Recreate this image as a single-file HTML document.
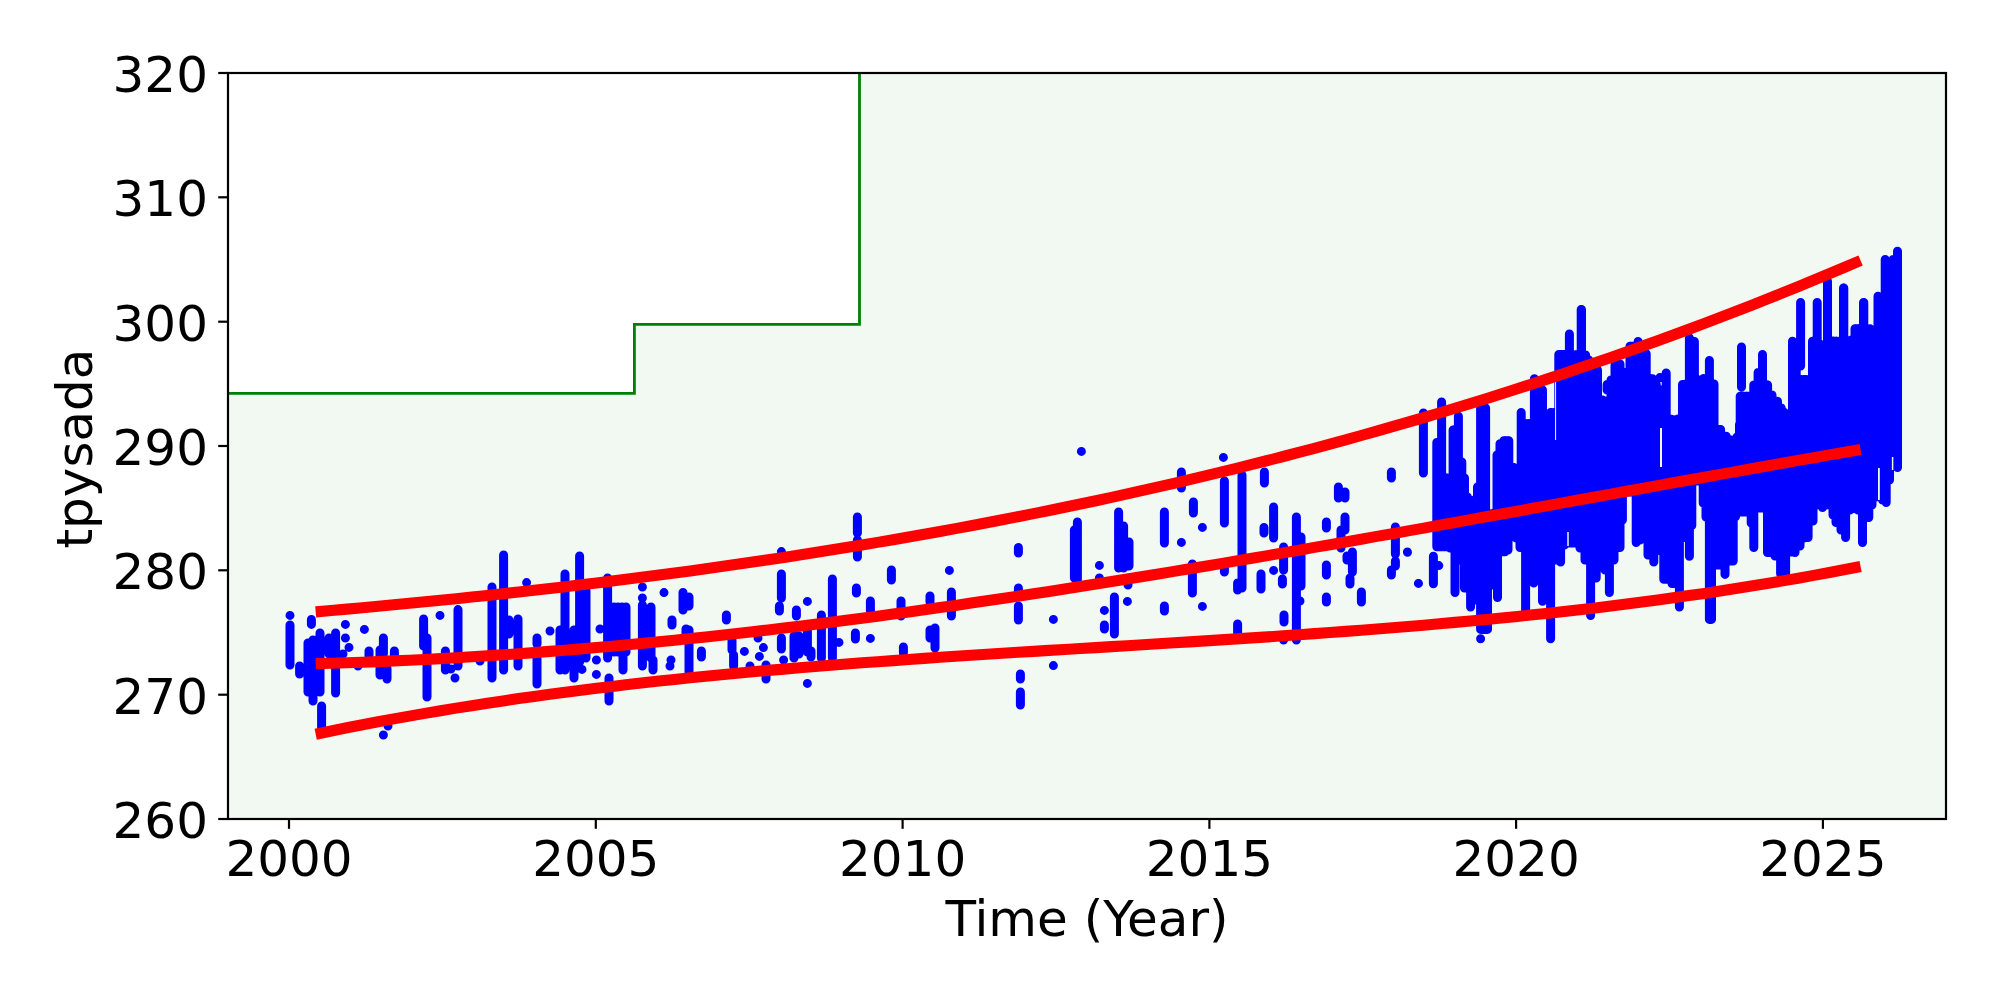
<!DOCTYPE html>
<html lang="en"><head><meta charset="utf-8"><title>tpysada vs Time (Year)</title>
<style>html,body{margin:0;padding:0;background:#fff;}body{width:2000px;height:1000px;overflow:hidden;}svg{display:block;}text{font-family:"DejaVu Sans","Liberation Sans",sans-serif;font-size:50px;fill:#000;}</style></head><body>
<svg width="2000" height="1000" viewBox="0 0 2000 1000">
<rect x="0" y="0" width="2000" height="1000" fill="#ffffff"/>
<path d="M228.0 393.3H634.4V324.4H859.5V73.0H1946.0V819.0H228.0Z" fill="#f2f9f2"/>
<path d="M228.0 393.3H634.4V324.4H859.5V73.0" fill="none" stroke="#008000" stroke-width="2.8" stroke-linejoin="miter"/>
<clipPath id="ax"><rect x="228" y="73" width="1718" height="746"/></clipPath>
<g clip-path="url(#ax)">
<g stroke="#0000ff" stroke-width="9" stroke-linecap="round" fill="none">
<path d="M290.0 625.0V665.0M311.4 619.4V624.4M299.6 666.0V674.0M308.0 643.0V692.0M313.0 640.0V701.0M320.0 633.0V692.0M321.6 706.0V733.0M329.0 638.0V654.0M335.6 633.0V693.0M369.0 651.0V656.0M383.4 638.0V654.0M380.0 650.0V675.0M387.0 668.0V679.0M394.4 651.0V656.0M423.6 619.0V646.0M427.0 638.0V697.0M458.0 609.6V666.0M445.4 651.0V670.0M492.0 587.0V678.0M503.6 555.0V670.0M518.0 619.0V666.0M509.0 620.0V634.0M537.0 638.0V644.0M537.0 658.0V684.0M560.0 630.0V670.0M565.0 574.0V670.0M574.0 630.0V678.0M579.6 556.0V662.0M586.0 590.0V658.0M607.6 578.0V658.0M609.0 678.0V701.0M614.0 607.0V652.0M618.0 607.0V652.0M622.0 607.0V652.0M626.0 607.0V652.0M623.0 652.0V670.0M642.4 605.0V666.0M651.0 607.0V658.0M653.0 660.0V670.0M683.0 592.4V610.0M689.0 597.0V606.0M672.0 620.0V625.0M686.0 629.0V634.0M689.0 630.0V672.0M701.4 651.0V657.0M726.4 615.0V620.0M732.0 640.0V650.0M733.6 655.0V666.0M766.0 665.0V679.0M781.4 574.0V598.0M779.4 606.0V611.0M781.4 638.0V649.0M796.4 610.0V616.0M794.0 636.0V658.0M799.0 636.0V654.0M807.4 630.0V652.0M811.0 651.0V657.0M821.4 615.0V658.0M832.4 579.0V658.0M857.4 517.0V533.0M857.4 540.0V557.0M856.4 588.0V593.0M855.4 633.0V639.0M870.4 601.0V611.0M891.4 570.0V580.0M901.0 601.0V616.0M903.4 647.0V653.0M930.0 596.0V602.0M951.4 592.0V616.0M930.0 630.0V638.0M935.0 628.0V648.0M1018.4 547.4V553.0M1018.4 588.0V593.0M1018.4 606.0V620.0M1020.4 674.0V679.0M1020.4 692.0V705.0M1077.4 522.0V580.0M1074.4 530.0V578.0M1118.6 512.0V568.0M1123.6 526.0V568.0M1129.0 542.0V566.0M1128.0 582.0V585.0M1114.4 597.0V634.0M1104.4 625.0V629.0M1164.4 512.0V543.0M1164.4 606.0V611.0M1181.4 472.0V488.0M1193.4 502.0V513.0M1192.4 564.0V593.0M1224.4 481.0V523.0M1224.4 568.0V572.0M1242.0 475.0V588.0M1237.6 583.0V590.0M1237.6 624.0V633.0M1264.4 472.0V483.0M1273.6 507.0V538.0M1264.0 527.4V533.0M1261.0 574.0V589.0M1283.6 547.0V570.0M1282.4 579.0V584.0M1296.4 517.0V640.0M1301.0 537.0V586.0M1284.0 615.0V622.0M1326.4 522.0V528.0M1326.4 565.0V575.0M1326.4 597.0V602.0M1338.4 487.0V498.0M1345.0 492.0V498.0M1345.0 517.0V530.0M1341.0 530.0V548.0M1352.4 552.0V572.0M1347.0 556.0V560.0M1350.0 578.0V584.0M1361.4 592.0V602.0M1391.4 472.0V478.0M1395.4 527.0V554.0M1395.4 561.0V566.0M1391.4 570.0V575.0M1423.4 413.0V473.0M1433.4 556.2V583.8M1607.1 384.4V390.0M1741.5 347.0V387.0M1800.6 302.5V366.0M1436.8 442.5V546.8M1438.8 442.5V546.8M1441.0 442.5V546.8M1441.2 442.5V546.8M1441.6 402.0V546.8M1443.8 478.0V546.8M1445.5 478.0V546.8M1446.2 478.0V546.8M1447.0 478.0V546.8M1448.8 478.0V546.8M1450.0 478.0V548.0M1451.2 478.0V548.0M1453.1 430.0V548.0M1453.8 430.0V548.0M1455.0 430.0V592.5M1456.2 430.0V560.0M1458.4 416.2V560.0M1458.8 462.0V560.0M1459.5 462.0V560.0M1461.2 462.0V560.0M1461.8 462.0V560.0M1463.8 478.0V560.0M1464.4 478.0V588.0M1464.5 478.0V588.0M1466.2 497.0V588.0M1467.4 497.0V588.0M1468.8 503.0V588.0M1470.6 503.0V607.0M1471.0 503.0V600.0M1471.2 503.0V600.0M1473.8 503.0V600.0M1474.5 500.0V600.0M1475.5 500.0V600.0M1476.2 500.0V600.0M1477.5 487.0V600.0M1478.8 487.0V600.0M1480.6 408.0V629.4M1481.2 408.0V629.4M1483.8 408.0V629.4M1485.6 408.0V629.4M1486.2 514.0V629.4M1487.5 514.0V629.4M1488.8 514.0V585.0M1491.2 514.0V585.0M1491.3 514.0V585.0M1492.5 514.0V585.0M1493.8 514.0V585.0M1496.2 514.0V585.0M1497.0 455.0V585.0M1497.5 455.0V597.5M1498.8 455.0V551.8M1500.0 443.8V551.8M1501.2 443.8V551.8M1502.0 443.8V551.8M1503.8 440.8V551.8M1505.0 440.8V551.8M1506.2 440.8V550.0M1508.0 440.8V550.0M1508.8 440.8V537.0M1511.0 467.5V537.0M1511.2 467.5V537.0M1513.5 467.5V536.8M1513.8 467.5V536.8M1516.2 470.0V538.0M1516.5 470.0V538.0M1517.0 470.0V538.0M1518.8 470.0V538.0M1520.0 470.0V547.5M1521.2 412.5V547.5M1523.8 423.8V547.5M1525.6 423.8V612.0M1526.2 423.8V575.0M1527.5 423.8V575.0M1528.8 423.8V575.0M1529.5 423.8V575.0M1531.2 423.8V575.0M1533.8 423.8V583.0M1534.4 378.8V580.0M1536.2 395.0V580.0M1538.0 395.0V580.0M1538.5 395.0V580.0M1538.8 395.0V580.0M1541.2 395.0V580.0M1542.5 390.0V601.2M1543.8 415.0V590.0M1546.2 415.0V590.0M1546.5 415.0V590.0M1548.8 415.0V590.0M1550.6 412.5V638.8M1551.2 412.5V560.0M1553.8 412.5V560.0M1555.5 412.5V560.0M1556.2 412.5V560.0M1558.8 354.4V560.0M1560.6 354.4V562.0M1561.2 354.4V545.0M1563.1 354.4V545.0M1563.8 354.4V545.0M1564.5 354.4V545.0M1566.2 354.4V543.0M1568.0 354.4V543.0M1568.8 354.4V543.0M1569.4 334.0V543.0M1571.2 355.0V543.0M1571.5 355.0V543.0M1573.8 355.0V543.0M1575.0 355.0V543.0M1575.6 355.0V543.0M1576.2 355.0V543.0M1578.8 355.0V543.0M1580.0 355.0V548.0M1581.2 309.4V548.0M1581.5 309.4V548.0M1583.8 355.0V548.0M1585.0 355.0V560.0M1585.6 355.0V560.0M1586.2 360.0V560.0M1588.8 360.0V560.0M1590.6 372.0V615.6M1591.2 372.0V578.0M1593.0 372.0V578.0M1593.8 372.0V578.0M1596.2 372.0V578.0M1597.5 370.0V561.8M1598.8 400.0V561.8M1601.2 400.0V561.8M1602.5 400.0V561.8M1603.8 401.2V561.8M1605.0 401.2V570.0M1606.2 401.2V570.0M1607.1 401.2V570.0M1608.8 401.2V570.0M1609.4 401.2V592.5M1611.0 380.0V560.0M1611.2 380.0V560.0M1613.8 380.0V560.0M1614.0 380.0V560.0M1615.0 365.0V547.5M1616.2 365.0V547.5M1618.8 365.0V547.5M1620.0 364.0V547.5M1621.2 372.5V520.0M1622.4 372.5V520.0M1623.8 372.5V492.0M1624.5 372.5V492.0M1625.0 372.5V492.0M1626.2 372.5V492.0M1628.8 372.5V492.0M1629.4 372.5V492.0M1630.0 346.2V492.0M1631.2 346.2V492.0M1633.0 346.2V492.0M1633.8 346.0V492.0M1634.0 346.0V492.0M1636.2 346.0V542.5M1638.1 341.5V540.0M1638.8 352.5V540.0M1640.0 352.5V540.0M1641.2 352.5V537.5M1642.5 352.5V537.5M1643.8 353.8V537.5M1646.2 353.8V537.5M1648.0 378.8V555.0M1648.8 378.8V555.0M1651.2 378.8V555.0M1652.5 378.8V555.0M1653.8 384.0V562.0M1656.0 384.0V550.5M1656.2 384.0V550.5M1658.8 390.0V550.5M1659.4 390.0V550.5M1660.0 390.0V550.5M1661.2 390.0V550.5M1663.8 390.0V579.2M1664.0 390.0V579.2M1666.2 373.0V579.2M1668.0 419.0V579.2M1668.8 419.0V579.2M1670.5 419.0V579.2M1671.2 420.0V579.2M1672.0 420.0V583.6M1673.8 420.0V583.6M1674.4 420.0V583.6M1675.5 420.0V583.6M1676.2 420.0V583.6M1678.0 419.0V583.6M1678.8 419.0V583.6M1679.4 419.0V607.0M1681.2 419.0V537.5M1682.5 384.4V537.5M1683.8 384.4V537.5M1684.4 384.4V537.5M1686.0 384.0V537.5M1686.2 384.0V537.5M1688.8 384.0V537.5M1689.4 338.0V556.2M1691.2 341.5V525.5M1691.8 341.5V525.5M1693.8 341.5V481.0M1694.4 341.5V481.0M1696.2 380.0V481.0M1697.5 380.0V481.0M1698.8 380.0V481.0M1699.0 380.0V481.0M1700.5 380.0V481.0M1701.2 380.0V481.0M1703.2 378.8V503.0M1703.4 378.8V503.0M1703.8 378.8V503.0M1706.0 378.8V517.0M1706.2 378.8V517.0M1708.8 378.8V517.0M1709.4 360.4V619.4M1711.2 384.0V619.4M1711.5 384.0V619.4M1713.8 384.0V565.0M1714.0 384.0V565.0M1716.0 429.4V565.0M1716.2 429.4V565.0M1718.8 429.4V565.0M1720.0 429.4V565.0M1720.6 429.4V565.0M1721.2 436.2V565.0M1723.8 436.2V565.0M1725.0 436.2V574.4M1726.2 436.2V561.0M1728.8 440.0V561.0M1729.5 440.0V561.0M1731.2 440.0V561.0M1733.0 444.5V561.0M1733.2 444.5V561.0M1733.8 444.5V516.8M1735.5 444.5V516.8M1736.2 444.5V512.0M1737.0 437.0V512.0M1738.0 437.0V512.0M1738.8 437.0V512.0M1739.5 424.5V512.0M1740.2 396.2V512.0M1741.2 396.2V512.0M1742.5 396.2V512.0M1743.8 396.2V512.0M1746.2 396.2V512.0M1747.0 396.2V512.0M1748.8 396.2V512.0M1749.5 396.2V513.0M1750.0 396.0V513.0M1751.2 396.0V523.0M1751.5 396.0V523.0M1753.8 385.0V547.5M1756.2 385.0V508.0M1757.0 385.0V508.0M1758.1 372.5V508.0M1758.8 372.5V508.0M1760.0 372.5V508.0M1761.2 372.5V508.0M1762.5 354.4V508.0M1763.8 385.0V508.0M1764.0 385.0V508.0M1766.2 385.0V508.0M1767.5 385.0V552.5M1767.6 385.0V552.5M1768.8 395.0V552.5M1770.0 395.0V552.5M1771.2 395.0V552.5M1772.0 395.0V552.5M1773.8 401.2V552.5M1775.0 401.2V556.0M1776.2 401.2V556.0M1777.5 401.2V556.0M1778.8 408.0V556.0M1780.6 408.0V573.8M1781.0 408.0V573.8M1781.2 408.0V573.8M1783.8 412.5V573.8M1784.4 412.5V573.8M1785.6 416.0V573.8M1786.2 416.0V552.0M1788.0 416.0V552.0M1788.8 416.0V552.0M1790.5 416.0V552.0M1791.2 416.0V552.0M1792.5 341.2V552.0M1793.8 345.0V552.0M1795.0 345.0V552.5M1796.0 345.0V546.0M1796.2 345.0V546.0M1798.8 379.5V546.0M1800.0 379.5V546.0M1800.4 379.5V538.0M1801.2 379.5V538.0M1803.8 379.5V538.0M1804.0 379.5V538.0M1805.0 379.5V537.5M1806.2 379.5V537.5M1808.1 379.5V537.5M1808.8 379.5V521.0M1811.2 379.5V521.0M1812.5 341.2V521.0M1813.0 341.2V521.0M1813.8 341.2V498.0M1816.2 341.2V498.0M1817.2 302.5V498.0M1818.8 345.0V498.0M1819.5 345.0V505.0M1821.2 345.0V505.0M1822.0 345.0V505.0M1822.5 345.0V507.5M1823.8 345.0V505.0M1826.2 345.0V505.0M1826.5 345.0V505.0M1827.5 281.2V503.0M1828.8 341.2V503.0M1830.0 341.2V503.0M1831.2 341.2V503.0M1832.5 341.2V503.0M1833.0 341.2V515.0M1833.8 341.2V515.0M1836.0 341.2V522.5M1836.2 341.2V522.5M1838.8 341.2V522.5M1839.4 341.2V522.5M1841.0 341.2V530.0M1841.2 341.2V530.0M1843.5 288.0V530.0M1843.8 288.0V530.0M1845.6 353.8V537.5M1846.2 353.8V510.0M1848.0 353.8V510.0M1848.8 353.8V510.0M1850.0 353.8V510.0M1851.2 340.0V498.0M1851.5 340.0V498.0M1853.8 340.0V498.0M1854.4 340.0V498.0M1855.0 328.8V498.0M1856.2 328.8V498.0M1858.0 328.8V510.0M1858.8 328.8V510.0M1861.2 328.8V510.0M1862.5 328.8V542.5M1863.5 302.5V517.5M1863.8 302.5V517.5M1866.2 330.0V517.5M1867.0 330.0V517.5M1868.8 330.0V517.5M1870.0 328.8V505.0M1871.2 330.0V505.0M1872.0 330.0V505.0M1873.8 330.0V497.5M1874.0 330.0V497.5M1875.0 330.0V497.5M1876.2 330.0V462.5M1878.0 296.2V462.5M1878.8 297.0V462.5M1881.2 297.0V462.5M1881.5 297.0V462.5M1882.5 297.0V500.0M1883.8 297.0V500.0M1885.2 259.4V500.0M1886.2 262.0V502.5M1888.8 262.0V480.0M1889.0 262.0V480.0M1889.5 262.0V480.0M1891.2 262.0V451.5M1892.5 262.0V451.5M1893.1 259.4V451.5M1893.8 259.4V451.5M1895.0 259.4V466.0M1896.2 259.4V466.0M1897.5 251.2V467.5M290.0 615.4h0M343.0 654.0h0M345.4 624.4h0M345.4 638.0h0M349.0 647.4h0M364.4 629.4h0M358.0 666.0h0M383.4 735.0h0M388.0 726.0h0M440.0 615.4h0M455.0 678.0h0M451.0 669.0h0M480.0 661.0h0M526.6 582.6h0M550.0 631.0h0M582.0 669.4h0M596.4 660.0h0M596.4 674.4h0M600.0 629.0h0M642.4 587.0h0M642.4 598.0h0M664.0 592.6h0M671.0 660.0h0M670.0 666.0h0M744.4 651.4h0M758.0 638.0h0M763.4 647.6h0M759.4 656.4h0M750.0 666.0h0M781.4 551.6h0M783.6 660.0h0M807.4 601.4h0M839.0 642.4h0M807.4 683.4h0M870.4 638.4h0M949.4 570.4h0M1053.4 619.4h0M1053.4 665.6h0M1081.4 451.4h0M1099.4 565.4h0M1099.4 578.0h0M1127.4 601.4h0M1104.4 610.4h0M1181.4 542.4h0M1202.4 527.4h0M1202.4 606.4h0M1223.4 457.4h0M1273.6 570.4h0M1300.0 601.0h0M1283.6 640.0h0M1407.4 552.0h0M1418.4 583.4h0M1407.5 552.2h0M1418.5 583.4h0M1438.8 565.6h0M1480.6 638.8h0M1660.0 377.5h0"/>
</g>
<path d="M1661 428V467" stroke="#f2f9f2" stroke-width="2" stroke-linecap="butt"/><path d="M1878.9 468V500" stroke="#f2f9f2" stroke-width="1.8" stroke-linecap="butt"/><path d="M1892.6 457V470" stroke="#f2f9f2" stroke-width="1.5" stroke-linecap="butt"/><path d="M1555.6 382V440" stroke="#f2f9f2" stroke-width="1" stroke-linecap="butt"/><path d="M1568 532V546" stroke="#f2f9f2" stroke-width="1.5" stroke-linecap="butt"/>
<g stroke="#ff0000" stroke-width="11.1" stroke-linecap="butt" stroke-linejoin="round" fill="none">
<path d="M315.7 611.9 L331.3 610.5 L346.9 609.1 L362.5 607.7 L378.1 606.3 L393.7 604.8 L409.3 603.3 L424.9 601.8 L440.5 600.2 L456.1 598.7 L471.8 597.1 L487.4 595.4 L503.0 593.7 L518.6 592.0 L534.2 590.3 L549.8 588.5 L565.4 586.7 L581.0 584.8 L596.6 583.0 L612.2 581.0 L627.8 579.1 L643.4 577.1 L659.0 575.1 L674.6 573.0 L690.2 570.9 L705.8 568.8 L721.4 566.6 L737.0 564.3 L752.6 562.1 L768.2 559.8 L783.9 557.4 L799.5 555.0 L815.1 552.6 L830.7 550.1 L846.3 547.6 L861.9 545.0 L877.5 542.4 L893.1 539.7 L908.7 537.0 L924.3 534.3 L939.9 531.5 L955.5 528.6 L971.1 525.7 L986.7 522.8 L1002.3 519.8 L1017.9 516.7 L1033.5 513.6 L1049.1 510.5 L1064.7 507.2 L1080.3 504.0 L1096.0 500.7 L1111.6 497.3 L1127.2 493.9 L1142.8 490.4 L1158.4 486.9 L1174.0 483.3 L1189.6 479.6 L1205.2 475.9 L1220.8 472.1 L1236.4 468.3 L1252.0 464.4 L1267.6 460.5 L1283.2 456.5 L1298.8 452.4 L1314.4 448.3 L1330.0 444.1 L1345.6 439.9 L1361.2 435.5 L1376.8 431.2 L1392.4 426.7 L1408.1 422.2 L1423.7 417.6 L1439.3 413.0 L1454.9 408.3 L1470.5 403.5 L1486.1 398.7 L1501.7 393.7 L1517.3 388.8 L1532.9 383.7 L1548.5 378.6 L1564.1 373.4 L1579.7 368.1 L1595.3 362.8 L1610.9 357.4 L1626.5 351.9 L1642.1 346.3 L1657.7 340.7 L1673.3 335.0 L1688.9 329.2 L1704.5 323.4 L1720.2 317.4 L1735.8 311.4 L1751.4 305.3 L1767.0 299.2 L1782.6 292.9 L1798.2 286.6 L1813.8 280.2 L1829.4 273.7 L1845.0 267.1 L1860.6 260.5"/>
<path d="M315.7 663.6 L331.3 663.2 L346.9 662.7 L362.5 662.2 L378.1 661.6 L393.7 660.9 L409.3 660.2 L424.9 659.5 L440.5 658.6 L456.1 657.8 L471.8 656.8 L487.4 655.8 L503.0 654.8 L518.6 653.7 L534.2 652.6 L549.8 651.4 L565.4 650.2 L581.0 648.9 L596.6 647.5 L612.2 646.2 L627.8 644.7 L643.4 643.2 L659.0 641.7 L674.6 640.2 L690.2 638.6 L705.8 636.9 L721.4 635.2 L737.0 633.5 L752.6 631.7 L768.2 629.9 L783.9 628.1 L799.5 626.2 L815.1 624.3 L830.7 622.3 L846.3 620.3 L861.9 618.3 L877.5 616.2 L893.1 614.1 L908.7 612.0 L924.3 609.8 L939.9 607.6 L955.5 605.4 L971.1 603.1 L986.7 600.8 L1002.3 598.5 L1017.9 596.2 L1033.5 593.8 L1049.1 591.4 L1064.7 589.0 L1080.3 586.6 L1096.0 584.1 L1111.6 581.6 L1127.2 579.1 L1142.8 576.5 L1158.4 574.0 L1174.0 571.4 L1189.6 568.8 L1205.2 566.2 L1220.8 563.6 L1236.4 560.9 L1252.0 558.3 L1267.6 555.6 L1283.2 552.9 L1298.8 550.2 L1314.4 547.4 L1330.0 544.7 L1345.6 542.0 L1361.2 539.2 L1376.8 536.4 L1392.4 533.7 L1408.1 530.9 L1423.7 528.1 L1439.3 525.3 L1454.9 522.5 L1470.5 519.6 L1486.1 516.8 L1501.7 514.0 L1517.3 511.2 L1532.9 508.3 L1548.5 505.5 L1564.1 502.6 L1579.7 499.8 L1595.3 497.0 L1610.9 494.1 L1626.5 491.3 L1642.1 488.5 L1657.7 485.6 L1673.3 482.8 L1688.9 480.0 L1704.5 477.2 L1720.2 474.4 L1735.8 471.6 L1751.4 468.8 L1767.0 466.0 L1782.6 463.2 L1798.2 460.4 L1813.8 457.7 L1829.4 454.9 L1845.0 452.2 L1860.6 449.5"/>
<path d="M315.7 734.2 L331.3 731.0 L346.9 727.8 L362.5 724.8 L378.1 721.8 L393.7 718.9 L409.3 716.1 L424.9 713.4 L440.5 710.7 L456.1 708.1 L471.8 705.7 L487.4 703.2 L503.0 700.9 L518.6 698.6 L534.2 696.4 L549.8 694.3 L565.4 692.2 L581.0 690.2 L596.6 688.3 L612.2 686.4 L627.8 684.5 L643.4 682.8 L659.0 681.1 L674.6 679.4 L690.2 677.8 L705.8 676.2 L721.4 674.7 L737.0 673.2 L752.6 671.8 L768.2 670.4 L783.9 669.1 L799.5 667.7 L815.1 666.5 L830.7 665.2 L846.3 664.0 L861.9 662.8 L877.5 661.7 L893.1 660.6 L908.7 659.5 L924.3 658.4 L939.9 657.3 L955.5 656.3 L971.1 655.3 L986.7 654.3 L1002.3 653.3 L1017.9 652.3 L1033.5 651.4 L1049.1 650.4 L1064.7 649.5 L1080.3 648.5 L1096.0 647.6 L1111.6 646.6 L1127.2 645.7 L1142.8 644.7 L1158.4 643.8 L1174.0 642.8 L1189.6 641.9 L1205.2 640.9 L1220.8 639.9 L1236.4 638.9 L1252.0 637.9 L1267.6 636.9 L1283.2 635.8 L1298.8 634.7 L1314.4 633.6 L1330.0 632.5 L1345.6 631.4 L1361.2 630.2 L1376.8 629.0 L1392.4 627.7 L1408.1 626.5 L1423.7 625.2 L1439.3 623.8 L1454.9 622.4 L1470.5 621.0 L1486.1 619.5 L1501.7 618.0 L1517.3 616.4 L1532.9 614.8 L1548.5 613.2 L1564.1 611.5 L1579.7 609.7 L1595.3 607.9 L1610.9 606.0 L1626.5 604.0 L1642.1 602.0 L1657.7 600.0 L1673.3 597.8 L1688.9 595.6 L1704.5 593.4 L1720.2 591.0 L1735.8 588.6 L1751.4 586.1 L1767.0 583.5 L1782.6 580.9 L1798.2 578.2 L1813.8 575.4 L1829.4 572.5 L1845.0 569.5 L1860.6 566.5"/>
</g>
</g>
<rect x="228.0" y="73.0" width="1718.0" height="746.0" fill="none" stroke="#000" stroke-width="2.2"/>
<g stroke="#000" stroke-width="2.2">
<line x1="289.0" y1="819.0" x2="289.0" y2="828.8"/>
<line x1="595.8" y1="819.0" x2="595.8" y2="828.8"/>
<line x1="902.6" y1="819.0" x2="902.6" y2="828.8"/>
<line x1="1209.4" y1="819.0" x2="1209.4" y2="828.8"/>
<line x1="1516.1" y1="819.0" x2="1516.1" y2="828.8"/>
<line x1="1822.9" y1="819.0" x2="1822.9" y2="828.8"/>
<line x1="228.0" y1="819.0" x2="218.2" y2="819.0"/>
<line x1="228.0" y1="694.7" x2="218.2" y2="694.7"/>
<line x1="228.0" y1="570.3" x2="218.2" y2="570.3"/>
<line x1="228.0" y1="446.0" x2="218.2" y2="446.0"/>
<line x1="228.0" y1="321.7" x2="218.2" y2="321.7"/>
<line x1="228.0" y1="197.3" x2="218.2" y2="197.3"/>
<line x1="228.0" y1="73.0" x2="218.2" y2="73.0"/>
</g>
<text x="289.0" y="876" text-anchor="middle">2000</text>
<text x="595.8" y="876" text-anchor="middle">2005</text>
<text x="902.6" y="876" text-anchor="middle">2010</text>
<text x="1209.4" y="876" text-anchor="middle">2015</text>
<text x="1516.1" y="876" text-anchor="middle">2020</text>
<text x="1822.9" y="876" text-anchor="middle">2025</text>
<text x="208" y="838.1" text-anchor="end">260</text>
<text x="208" y="713.8" text-anchor="end">270</text>
<text x="208" y="589.4" text-anchor="end">280</text>
<text x="208" y="465.1" text-anchor="end">290</text>
<text x="208" y="340.8" text-anchor="end">300</text>
<text x="208" y="216.4" text-anchor="end">310</text>
<text x="208" y="92.1" text-anchor="end">320</text>
<text x="1087" y="935.5" text-anchor="middle">Time (Year)</text>
<text transform="translate(92.3 448.5) rotate(-90)" text-anchor="middle">tpysada</text>
</svg></body></html>
